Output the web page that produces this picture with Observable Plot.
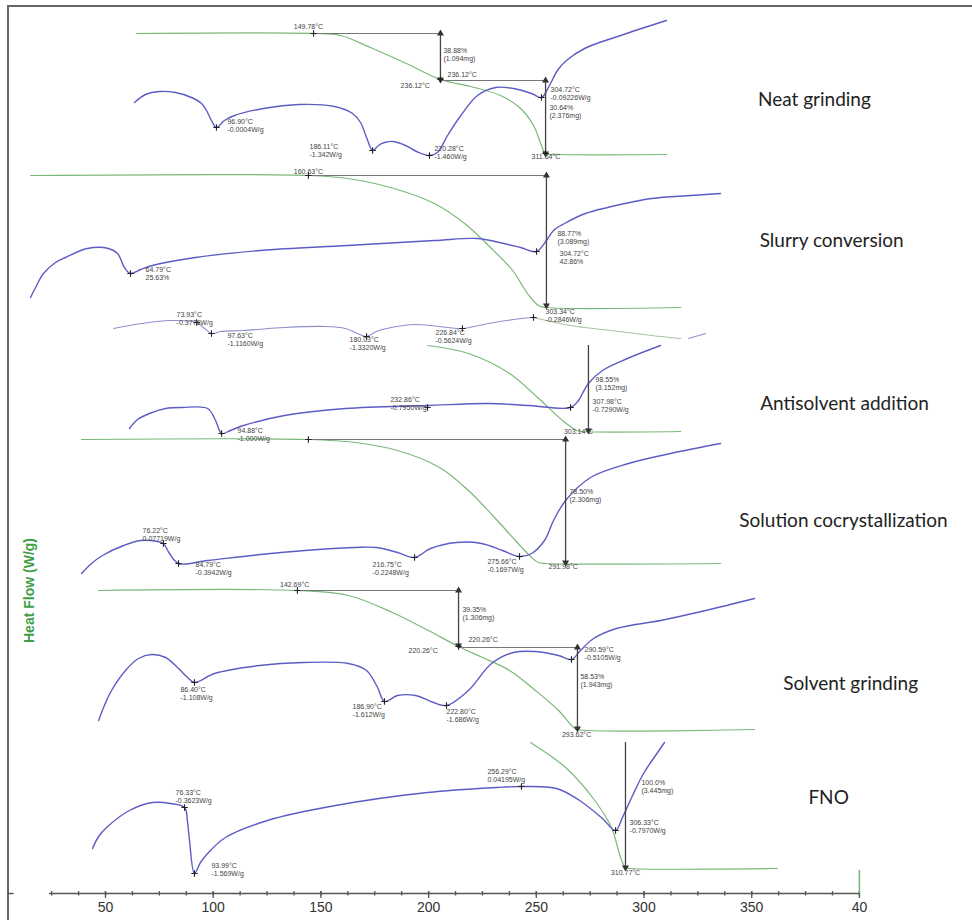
<!DOCTYPE html>
<html>
<head>
<meta charset="utf-8">
<script src="https://cdn.jsdelivr.net/npm/d3@7"></script>
<script src="https://cdn.jsdelivr.net/npm/@observablehq/plot@0.6"></script>
<style>
  body { margin: 0; background: #fff; }
  #wrap { position: relative; width: 972px; height: 920px; overflow: hidden; }
  #frame { position: absolute; left: 7px; top: 5px; right: -4px; bottom: -4px;
           border-left: 2px solid #666; border-top: 2px solid #666; }
  #chart { position: absolute; left: 0; top: 0; }
</style>
</head>
<body>
<div id="wrap"><div id="frame"></div><div id="chart"></div></div>
<script>
// Temperature (°C) vs stacked signal (arbitrary offset units) for the DSC / TGA traces.

// ---- Neat grinding ----
const neatDSC = [[63.5,81.8],[68.6,82.6],[75.1,82.9],[82.5,82.8],[89.9,82.3],[94.6,81.7],[96.9,81.0],[99.2,80.0],[101.5,79.3],[105.2,80.0],[109.9,80.5],[123.3,81.2],[140.1,81.6],[156.3,81.4],[164.7,80.7],[168.4,79.8],[171.2,78.3],[174.0,77.0],[176.7,77.5],[179.5,77.8],[183.7,77.9],[189.3,77.5],[194.4,76.9],[200.4,76.5],[204.1,76.8],[208.8,78.5],[214.3,80.3],[222.7,82.5],[231.1,83.3],[239.4,83.2],[247.8,82.7],[252.4,82.3],[256.1,83.5],[259.8,85.0],[264.0,86.0],[272.4,87.2],[289.1,88.5],[310.4,90.0]];
const neatTGA = [[64.4,88.7],[146.6,88.7],[159.1,88.5],[173.0,87.3],[189.7,85.7],[205.5,84.1],[219.5,83.4],[233.4,82.5],[242.7,81.2],[248.7,79.5],[252.4,77.5],[254.3,76.7],[261.2,76.6],[310.4,76.6]];

// ---- Slurry conversion ----
const slurryDSC = [[15.2,62.3],[18.0,63.5],[21.2,64.7],[26.8,65.8],[31.4,66.3],[41.6,67.2],[51.4,67.2],[55.6,66.7],[58.8,65.3],[61.6,64.7],[66.3,65.1],[71.8,65.5],[91.8,66.3],[122.0,67.0],[162.3,67.5],[202.7,68.0],[222.7,68.2],[232.9,67.8],[242.7,67.3],[250.1,66.9],[254.7,68.0],[258.0,69.0],[263.1,69.7],[272.8,70.7],[283.1,71.3],[303.5,72.2],[321.6,72.5],[335.5,72.7]];
const slurryTGA = [[15.2,74.5],[144.2,74.5],[162.3,74.2],[182.3,73.3],[202.7,71.7],[216.7,69.7],[228.7,67.3],[239.0,65.0],[245.9,62.7],[251.0,61.5],[254.7,61.3],[317.0,61.3]];

// ---- Antisolvent addition ----
const antiUpperDSC = [[53.7,59.2],[66.7,59.7],[80.2,60.0],[92.3,59.8],[96.0,59.2],[99.2,58.7],[103.4,58.9],[114.1,59.0],[133.1,59.3],[152.1,59.4],[161.4,59.2],[167.0,58.7],[171.2,58.4],[175.8,58.9],[180.5,59.2],[193.9,59.6],[208.8,59.3],[215.7,59.2],[227.8,59.7],[243.1,60.2],[248.7,60.3]];
const antiUpperTail = [[248.7,60.3],[265.9,59.5],[284.5,59.0],[303.5,58.5],[317.0,58.2]];
const antiUpperEnd = [[320.7,58.2],[328.6,58.7]];
const antiDSC = [[61.1,49.2],[64.9,50.1],[70.4,50.7],[77.9,51.2],[85.7,51.3],[97.4,51.2],[101.1,50.0],[103.9,48.7],[108.0,49.0],[114.1,49.5],[133.1,50.5],[161.4,51.2],[199.5,51.5],[227.8,51.7],[246.8,51.5],[265.9,51.3],[269.6,52.0],[271.4,52.7],[274.2,53.7],[280.7,55.0],[292.3,56.2],[307.7,57.5]];
const antiTGA = [[199.5,57.5],[218.5,56.7],[237.6,54.7],[250.6,52.3],[262.2,50.0],[268.7,49.0],[271.4,48.9],[317.0,48.9]];

// ---- Solution cocrystallization ----
const solDSC = [[38.9,34.7],[43.5,35.7],[48.6,36.5],[58.4,37.5],[66.3,38.0],[74.1,37.9],[76.9,37.7],[79.7,36.7],[83.9,35.7],[97.4,36.0],[126.6,36.7],[166.1,37.3],[175.8,37.3],[185.6,36.8],[193.5,36.3],[200.9,37.2],[213.0,37.8],[224.6,37.7],[234.3,37.0],[242.2,36.4],[247.8,36.7],[253.8,38.0],[258.0,40.0],[263.6,42.0],[275.2,44.3],[292.8,45.7],[312.3,46.7],[335.5,47.7]];
const solTGA = [[38.9,48.1],[144.2,48.1],[166.1,47.8],[185.6,47.0],[205.1,45.3],[218.5,43.0],[230.6,40.3],[240.3,38.0],[247.8,36.3],[251.0,35.8],[254.3,35.7],[335.5,35.7]];

// ---- Solvent grinding ----
const solvDSC = [[46.8,20.0],[49.5,21.5],[52.8,23.0],[59.3,25.0],[65.3,26.2],[71.4,26.6],[77.9,26.3],[83.9,25.2],[88.1,24.3],[91.3,23.8],[100.6,24.7],[121.5,25.5],[141.9,25.8],[162.8,25.7],[171.2,25.0],[176.3,23.3],[179.5,21.9],[185.6,22.5],[193.9,22.5],[202.3,21.8],[208.3,21.5],[218.5,23.0],[229.2,25.7],[239.4,26.8],[249.6,26.9],[260.3,26.5],[266.3,26.1],[270.5,27.0],[276.6,28.2],[287.2,29.2],[307.7,30.0],[328.6,31.0],[351.3,32.2]];
const solvTGA = [[46.8,33.0],[139.1,33.0],[162.8,32.5],[183.2,30.8],[199.9,29.0],[213.9,27.4],[225.0,26.3],[237.6,25.0],[249.6,23.0],[260.3,21.0],[267.3,19.3],[269.1,19.1],[351.3,19.1]];

// ---- FNO ----
const fnoDSC = [[44.0,7.2],[46.8,8.4],[50.5,9.3],[61.1,11.0],[71.8,11.8],[80.2,11.7],[86.7,11.3],[88.1,9.8],[89.0,8.0],[91.3,4.7],[94.1,5.8],[97.4,6.7],[105.7,8.3],[125.2,10.0],[156.8,11.5],[199.5,12.8],[231.5,13.3],[243.1,13.4],[259.4,13.2],[270.1,12.0],[280.7,10.2],[286.8,9.0],[290.0,10.3],[294.7,12.5],[299.8,14.7],[306.3,16.8],[309.5,17.8]];
const fnoTGA = [[247.3,17.8],[263.6,15.3],[276.1,12.3],[284.9,9.3],[289.1,6.3],[291.4,5.3],[293.7,5.2],[362.0,5.2]];

// Picked points on the traces
const markers = [[146.6,88.7],[205.5,84.1],[101.5,79.3],[174.0,77.0],[200.4,76.5],[252.4,82.3],[254.3,76.7],
  [144.2,74.5],[61.6,64.7],[250.1,66.9],
  [92.3,59.8],[99.2,58.7],[171.2,58.4],[215.7,59.2],[248.7,60.3],
  [103.9,48.7],[199.5,51.3],[265.9,51.3],
  [144.2,48.1],[76.9,37.7],[83.9,35.7],[193.5,36.3],[242.2,36.4],
  [139.1,33.0],[213.9,27.4],[91.3,23.8],[179.5,21.9],[208.3,21.5],[266.3,26.1],
  [86.7,11.3],[91.3,4.7],[243.1,13.4],[286.8,9.0]];

// Step-change arrows: temperature, top and bottom of the step, which ends carry a head
const stepArrows = [
  {t: 205.5, top: 88.7, bottom: 84.1, heads: "both"},
  {t: 254.3, top: 84.0, bottom: 76.7, heads: "both"},
  {t: 254.7, top: 74.5, bottom: 61.5, heads: "both"},
  {t: 274.2, top: 57.5, bottom: 49.0, heads: "down"},
  {t: 263.6, top: 48.1, bottom: 35.8, heads: "both"},
  {t: 213.9, top: 33.0, bottom: 27.5, heads: "both"},
  {t: 269.1, top: 27.3, bottom: 19.2, heads: "both"},
  {t: 291.4, top: 17.8, bottom: 5.3, heads: "down"}
];
// Horizontal connectors from onset points to the step arrows
const connectors = [
  {from: 146.6, to: 205.5, v: 88.7},
  {from: 205.5, to: 254.3, v: 84.0},
  {from: 144.2, to: 254.7, v: 74.5},
  {from: 144.2, to: 263.6, v: 48.1},
  {from: 139.1, to: 213.9, v: 33.0},
  {from: 213.9, to: 269.1, v: 27.3}
];

// Instrument annotations (first line position)
const notes = [
  {t: 144.2, v: 89.3, text: "149.78°C", a: "middle"},
  {t: 206.9, v: 86.9, text: "38.88%\n(1.094mg)", a: "start"},
  {t: 208.8, v: 84.5, text: "236.12°C", a: "start"},
  {t: 187.0, v: 83.4, text: "236.12°C", a: "start"},
  {t: 256.1, v: 81.2, text: "30.64%\n(2.376mg)", a: "start"},
  {t: 247.8, v: 76.3, text: "311.64°C", a: "start"},
  {t: 106.6, v: 79.8, text: "96.90°C\n-0.0004W/g", a: "start"},
  {t: 144.7, v: 77.3, text: "186.11°C\n-1.342W/g", a: "start"},
  {t: 202.7, v: 77.1, text: "220.28°C\n-1.460W/g", a: "start"},
  {t: 256.6, v: 83.0, text: "304.72°C\n-0.09226W/g", a: "start"},
  {t: 144.2, v: 74.8, text: "160.63°C", a: "middle"},
  {t: 259.8, v: 68.6, text: "88.77%\n(3.089mg)", a: "start"},
  {t: 260.8, v: 66.6, text: "304.72°C\n42.86%", a: "start"},
  {t: 68.6, v: 65.0, text: "64.79°C\n25.63%", a: "start"},
  {t: 83.0, v: 60.5, text: "73.93°C\n-0.3776W/g", a: "start"},
  {t: 106.6, v: 58.4, text: "97.63°C\n-1.1160W/g", a: "start"},
  {t: 163.3, v: 58.0, text: "180.03°C\n-1.3320W/g", a: "start"},
  {t: 203.2, v: 58.7, text: "226.84°C\n-0.5624W/g", a: "start"},
  {t: 254.3, v: 60.8, text: "303.34°C\n-0.2846W/g", a: "start"},
  {t: 111.3, v: 48.9, text: "94.88°C\n-1.000W/g", a: "start"},
  {t: 182.3, v: 52.0, text: "232.86°C\n-0.7950W/g", a: "start"},
  {t: 276.1, v: 51.8, text: "307.98°C\n-0.7290W/g", a: "start"},
  {t: 277.5, v: 54.0, text: "98.55%\n(3.152mg)", a: "start"},
  {t: 269.6, v: 48.8, text: "303.14°C", a: "middle"},
  {t: 67.2, v: 38.9, text: "76.22°C\n0.07719W/g", a: "start"},
  {t: 91.8, v: 35.5, text: "84.79°C\n-0.3942W/g", a: "start"},
  {t: 174.0, v: 35.5, text: "216.75°C\n-0.2248W/g", a: "start"},
  {t: 227.3, v: 35.8, text: "275.66°C\n-0.1697W/g", a: "start"},
  {t: 255.7, v: 35.3, text: "291.98°C", a: "start"},
  {t: 265.4, v: 42.8, text: "78.50%\n(2.306mg)", a: "start"},
  {t: 137.8, v: 33.5, text: "142.69°C", a: "middle"},
  {t: 215.7, v: 31.0, text: "39.35%\n(1.306mg)", a: "start"},
  {t: 218.5, v: 28.0, text: "220.26°C", a: "start"},
  {t: 190.7, v: 26.9, text: "220.26°C", a: "start"},
  {t: 272.4, v: 27.0, text: "290.59°C\n-0.5105W/g", a: "start"},
  {t: 270.5, v: 24.3, text: "58.53%\n(1.943mg)", a: "start"},
  {t: 268.7, v: 18.5, text: "293.62°C", a: "middle"},
  {t: 84.8, v: 23.0, text: "86.40°C\n-1.108W/g", a: "start"},
  {t: 164.7, v: 21.3, text: "186.90°C\n-1.612W/g", a: "start"},
  {t: 208.3, v: 20.8, text: "222.80°C\n-1.686W/g", a: "start"},
  {t: 82.5, v: 12.7, text: "76.33°C\n-0.3623W/g", a: "start"},
  {t: 99.2, v: 5.4, text: "93.99°C\n-1.569W/g", a: "start"},
  {t: 227.3, v: 14.8, text: "256.29°C\n0.04195W/g", a: "start"},
  {t: 293.3, v: 9.7, text: "306.33°C\n-0.7970W/g", a: "start"},
  {t: 298.8, v: 13.7, text: "100.0%\n(3.445mg)", a: "start"},
  {t: 291.4, v: 4.7, text: "310.77°C", a: "middle"}
];

// Sample names beside each pair of traces
const sampleNames = ["Neat grinding", "Slurry conversion", "Antisolvent addition", "Solution cocrystallization", "Solvent grinding", "FNO"];
const sampleNameT = [379.1, 387.1, 393.1, 392.6, 395.9, 385.7];
const sampleNameV = [82.1, 68.0, 51.7, 40.0, 23.7, 12.3];

// Temperature axis
const majorTicks = [50, 100, 150, 200, 250, 300, 350, 400];
const tickLabels = ["50", "100", "150", "200", "250", "300", "350", "40"];
const minorTicks = d3.range(25, 400.01, 12.5);
const axisStart = 24.0, axisEnd = 400, axisLevel = 2.7;

const rows = (arr, series) => arr.map(([t, v]) => ({t, v, series}));
const dsc = [...rows(neatDSC, "neat"), ...rows(slurryDSC, "slurry"), ...rows(antiDSC, "anti"),
             ...rows(solDSC, "sol"), ...rows(solvDSC, "solv"), ...rows(fnoDSC, "fno")];
const tga = [...rows(neatTGA, "neat"), ...rows(slurryTGA, "slurry"), ...rows(antiTGA, "anti"),
             ...rows(solTGA, "sol"), ...rows(solvTGA, "solv"), ...rows(fnoTGA, "fno")];

const heads = [];
for (const a of stepArrows) {
  if (a.heads === "both") heads.push({t: a.t, v: a.top, dir: 0});
  heads.push({t: a.t, v: a.bottom, dir: 180});
}

const BLUE = "#5d5cc4", GREEN = "#7ab87a", INK = "#444";
const noteStyle = {x: "t", y: "v", text: "text", lineAnchor: "top", dy: -3.5,
                   fontSize: 7, lineHeight: 1.05, fill: "#444"};

const chart = Plot.plot({
  width: 972,
  height: 920,
  margin: 0,
  x: {domain: [1.254, 452.5], axis: null},
  y: {domain: [0, 92], axis: null},
  style: {background: "transparent", fontFamily: "'Liberation Sans', Arial, sans-serif"},
  marks: [
    // TGA (green) and DSC (blue) traces
    Plot.line(tga, {x: "t", y: "v", z: "series", stroke: GREEN, strokeWidth: 1.2, curve: "catmull-rom"}),
    Plot.line(rows(antiUpperTail, "tail"), {x: "t", y: "v", stroke: "#a9c3a3", strokeWidth: 1.1, curve: "catmull-rom"}),
    Plot.line(rows(antiUpperDSC, "upper"), {x: "t", y: "v", stroke: "#8d8fcc", strokeWidth: 1.1, curve: "catmull-rom"}),
    Plot.line(rows(antiUpperEnd, "end"), {x: "t", y: "v", stroke: "#8d8fcc", strokeWidth: 1.1}),
    Plot.line(dsc, {x: "t", y: "v", z: "series", stroke: BLUE, strokeWidth: 1.4, curve: "catmull-rom"}),
    // connectors and step arrows
    Plot.ruleY(connectors, {x1: "from", x2: "to", y: "v", stroke: "#777", strokeWidth: 1}),
    Plot.ruleX(stepArrows, {x: "t", y1: "top", y2: "bottom", stroke: INK, strokeWidth: 1.3}),
    Plot.dot(heads, {x: "t", y: "v", symbol: "triangle", rotate: "dir", r: 2.6, fill: "#333", stroke: null}),
    Plot.dot(markers, {x: d => d[0], y: d => d[1], symbol: "plus", r: 2.2, stroke: "#222", strokeWidth: 1.1}),
    // annotations
    Plot.text(notes.filter(d => d.a === "start"), {...noteStyle, textAnchor: "start"}),
    Plot.text(notes.filter(d => d.a === "middle"), {...noteStyle, textAnchor: "middle"}),
    // sample names
    Plot.text(sampleNames, {x: (d, i) => sampleNameT[i], y: (d, i) => sampleNameV[i], text: d => d,
                            fontFamily: "Lato, 'Open Sans', sans-serif", fontSize: 19, fill: "#222"}),
    // temperature axis
    Plot.ruleY([axisLevel], {x1: axisStart, x2: axisEnd, stroke: "#555", strokeWidth: 1.6}),
    Plot.ruleX(minorTicks, {x: d => d, y1: axisLevel - 0.25, y2: axisLevel + 0.2, stroke: "#555", strokeWidth: 1.3}),
    Plot.ruleX(majorTicks, {x: d => d, y1: axisLevel - 0.5, y2: axisLevel + 0.2, stroke: "#555", strokeWidth: 1.3}),
    Plot.ruleX([axisEnd], {y1: axisLevel, y2: axisLevel + 2.3, stroke: GREEN, strokeWidth: 1.6}),
    Plot.text(majorTicks, {x: d => d, y: 1.3, text: (d, i) => tickLabels[i], fontSize: 14, fill: "#333"}),
    Plot.ruleY([axisLevel], {x1: 5.0, x2: 7.6, stroke: "#555", strokeWidth: 1.4}),
    // heat flow label
    Plot.text(["Heat Flow (W/g)"], {frameAnchor: "left", dx: 29, y: 33.0, text: d => d, rotate: -90,
                                    textAnchor: "middle", fontSize: 14, fontWeight: "bold",
                                    letterSpacing: "1.5px", fill: "#3f9f45"})
  ]
});
document.getElementById("chart").appendChild(chart);
</script>
</body>
</html>
